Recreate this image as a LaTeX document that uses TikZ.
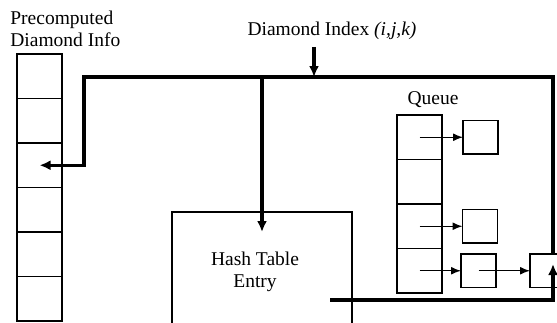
\documentclass[tikz,border=0pt]{standalone}
\usepackage{fontspec}
\setmainfont{Liberation Serif}
\usepackage{tikz}
\usetikzlibrary{arrows.meta}
\tikzset{
	% ---- default
	every node/.style={font=\fontsize{9.75}{11}\selectfont},
	% ---- custom
	cell/.style={draw, line width=0.8pt, minimum width=22.5pt, minimum height=22.25pt, inner sep=0pt, outer sep=0pt},
	item/.style={draw, line width=0.8pt, minimum width=17.5pt, minimum height=16.75pt, inner sep=0pt, outer sep=0pt},
	bus/.style={line width=1.6pt, -{Latex[length=5.5pt,width=5pt]}},
	link/.style={line width=0.7pt, -{Latex[length=5pt,width=4pt]}},
	caption/.style={align=left, inner sep=0pt},
}

\begin{document}
\begin{tikzpicture}[x=0.5pt, y=-0.5pt]

% frame %{{{2

	\clip (0,0) rectangle (557,322);

% coordinates %{{{2

	\coordinate (busl) at (84,77);
	\coordinate (busr) at (553,77);
	\coordinate (dtip) at (314,77);
	\coordinate (hashtip) at (262,232);
	\coordinate (retin) at (330,300);
	\coordinate (rettip) at (553,264);

% labels %{{{2

	\node[caption, anchor=west] (prelabel) at (10,29) {Precomputed\\Diamond Info};
	\node (dindex) at (332,31) {Diamond Index \textit{(i,j,k)}};
	\node (qlabel) at (433,100) {Queue};

% precomputed table %{{{2

	\foreach \i in {1,...,6}
		\node[cell] (pre\i) at (39.5,{76.25+44.5*(\i-1)}) {};

% hash table entry %{{{2

	\node[draw, line width=0.8pt, minimum width=90pt, minimum height=68pt, inner sep=0pt] (hash) at (262,280) {};
	\node[align=center] (hashtext) at (255,272) {Hash Table\\Entry};

% queue %{{{2

	\foreach \i in {1,...,4}
		\node[cell] (que\i) at (419.5,{137.25+44.5*(\i-1)}) {};

	\node[item] (it1) at (480.5,137.25) {};
	\node[item] (it2) at (480,226.25) {};
	\node[item] (it3) at (478.5,270.75) {};
	\node[item] (it4) at (547.5,270.75) {};

% queue links %{{{2

	\draw[link] (que1.center) -- (it1.west);
	\draw[link] (que3.center) -- (it2.west);
	\draw[link] (que4.center) -- (it3.west);
	\draw[link] (it3.center) -- (it4.west);

% bus lines %{{{2

	\draw[bus] (it4.north -| busr) -- (busr) -- (busl) |- (pre3.center);
	\draw[bus] (dindex.south -| dtip) -- (dtip);
	\draw[bus] (busl -| hashtip) -- (hashtip);
	\draw[bus] (retin) -| (rettip);

% closing %{{{2

\end{tikzpicture}
\end{document}
